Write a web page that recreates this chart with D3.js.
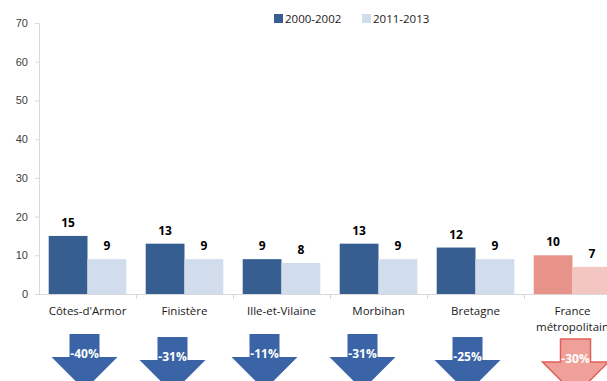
<!DOCTYPE html>
<html>
<head>
<meta charset="utf-8">
<script src="https://cdn.jsdelivr.net/npm/d3@7"></script>
<style>
  html, body { margin: 0; padding: 0; background: #fff; }
  svg { display: block; font-family: "Open Sans", "Liberation Sans", sans-serif; }
</style>
</head>
<body>
<svg id="chart" width="607" height="381"></svg>
<script>

// Data.
var categories = ['Côtes-d\'Armor', 'Finistère', 'Ille-et-Vilaine',
  'Morbihan', 'Bretagne', 'France\nmétropolitain'];
var series = ['2000-2002', '2011-2013'];
var values2000 = [15, 13, 9, 13, 12, 10];
var values2011 = [9, 9, 8, 9, 9, 7];
var changes = ['-40%', '-31%', '-11%', '-31%', '-25%', '-30%'];
var yTicks = [0, 10, 20, 30, 40, 50, 60, 70];

// Layout.
var plotLeft = 39, plotRight = 621, plotTop = 23, plotBase = 294;
var arrowShift = [-3, -12, -17, -16, -8, 3];
var blue = ['#365e91', '#d1dcec'];
var pink = ['#e8938a', '#f3c6c2'];

var svg = d3.select('#chart');

var x = d3.scaleBand().domain(categories).range([plotLeft, plotRight])
  .paddingInner(0.2).paddingOuter(0.1);
var step = x.step();
var band = d3.scaleBand().domain(series).range([0, 0.8 * step]);
var y = d3.scaleLinear().domain([0, 70]).range([plotBase, plotTop]);

// Y axis.
var yAxis = svg.append('g')
  .attr('transform', 'translate(' + plotLeft + ',0)')
  .call(d3.axisLeft(y).tickValues(yTicks).tickSize(4).tickPadding(7));
yAxis.select('.domain').attr('stroke', '#d9d9d9');
yAxis.selectAll('.tick line').attr('stroke', '#d9d9d9');
yAxis.selectAll('.tick text').attr('font-size', 11).attr('fill', '#404040');

// Category axis.
var xAxis = svg.append('g');
xAxis.append('line')
  .attr('x1', plotLeft).attr('x2', 607)
  .attr('y1', plotBase + 0.5).attr('y2', plotBase + 0.5)
  .attr('stroke', '#d9d9d9');
xAxis.selectAll('.cut').data(categories).enter().append('line')
  .attr('x1', function(d) { return Math.round(x(d) + x.bandwidth() + step * 0.1) + 0.5; })
  .attr('x2', function(d) { return Math.round(x(d) + x.bandwidth() + step * 0.1) + 0.5; })
  .attr('y1', plotBase).attr('y2', plotBase + 5)
  .attr('stroke', '#d9d9d9');

xAxis.selectAll('.cat').data(categories).enter().append('text')
  .attr('text-anchor', 'middle')
  .attr('font-size', 11.5).attr('fill', '#1a1a1a')
  .each(function(d) {
    var lines = d.split('\n');
    var t = d3.select(this);
    lines.forEach(function(l, i) {
      t.append('tspan')
        .attr('x', x(d) + x.bandwidth() / 2)
        .attr('y', 315 + i * 16)
        .text(l);
    });
  });

// Bars.
categories.forEach(function(c, i) {
  var cols = i === categories.length - 1 ? pink : blue;
  var vals = [values2000[i], values2011[i]];
  var g = svg.append('g').attr('transform', 'translate(' + x(c) + ',0)');
  g.selectAll('rect').data(vals).enter().append('rect')
    .attr('x', function(d, j) { return band(series[j]); })
    .attr('y', function(d) { return y(d); })
    .attr('width', band.bandwidth())
    .attr('height', function(d) { return plotBase - y(d); })
    .attr('fill', function(d, j) { return cols[j]; });
  g.selectAll('text').data(vals).enter().append('text')
    .attr('x', function(d, j) { return band(series[j]) + band.bandwidth() / 2; })
    .attr('y', function(d) { return y(d) - 9; })
    .attr('text-anchor', 'middle')
    .attr('font-size', 12).attr('font-weight', 'bold').attr('fill', '#000')
    .text(function(d) { return d; });
});

// Arrows.
categories.forEach(function(c, i) {
  var last = i === categories.length - 1;
  var cx = x(c) + x.bandwidth() / 2 + arrowShift[i];
  var t = last ? 339 : (i === 1 || i === 4 ? 337 : 334);
  var neck = t + 23, sw = 15, hw = 33;
  var path = d3.path();
  path.moveTo(cx - sw, t);
  path.lineTo(cx + sw, t);
  path.lineTo(cx + sw, neck);
  path.lineTo(cx + hw, neck);
  path.lineTo(cx, neck + hw);
  path.lineTo(cx - hw, neck);
  path.lineTo(cx - sw, neck);
  path.closePath();
  svg.append('path')
    .attr('d', path.toString())
    .attr('fill', last ? '#efa099' : '#3a64a6')
    .attr('stroke', last ? '#e0605a' : 'none')
    .attr('stroke-width', 1.5);
  svg.append('text')
    .attr('x', cx).attr('y', t + 24)
    .attr('text-anchor', 'middle')
    .attr('font-size', 12).attr('font-weight', 'bold').attr('fill', '#fff')
    .text(changes[i]);
});

// Legend.
var legend = svg.append('g');
var legendX = [274, 362];
series.forEach(function(s, i) {
  legend.append('rect')
    .attr('x', legendX[i]).attr('y', 14).attr('width', 9).attr('height', 9)
    .attr('fill', blue[i]);
  legend.append('text')
    .attr('x', legendX[i] + 11).attr('y', 23)
    .attr('font-size', 11.5).attr('fill', '#1a1a1a')
    .text(s);
});

</script>
</body>
</html>
